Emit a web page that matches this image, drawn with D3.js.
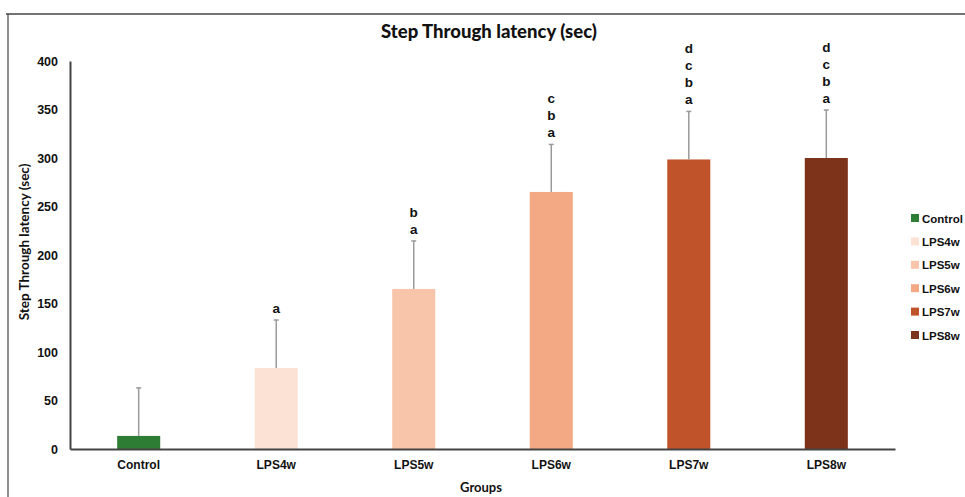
<!DOCTYPE html>
<html><head><meta charset="utf-8">
<script src="https://cdn.jsdelivr.net/npm/d3@7"></script>
<style>body{margin:0;background:#fff}svg{display:block}</style>
</head><body>
<svg id="c" width="965" height="497"></svg>
<script>
const categories = ["Control","LPS4w","LPS5w","LPS6w","LPS7w","LPS8w"];
const means = [13.5, 83.5, 165, 265, 298.5, 300];
const errors = [49.5, 49.5, 49.5, 49, 49.5, 49.5];
const letters = [[], ["a"], ["b","a"], ["c","b","a"], ["d","c","b","a"], ["d","c","b","a"]];
const colors = ["#2e7d34","#fce2d4","#f8c5aa","#f3a983","#c1532a","#7d3319"];
const yTicks = [0,50,100,150,200,250,300,350,400];

const svg = d3.select("#c");
// frame
svg.append("line").attr("x1",6).attr("x2",965).attr("y1",14).attr("y2",14).attr("stroke","#444").attr("stroke-width",1.5);
svg.append("line").attr("x1",8).attr("x2",8).attr("y1",14).attr("y2",497).attr("stroke","#444").attr("stroke-width",1.2);

const x = d3.scaleBand().domain(categories).range([70,895]).paddingInner(0.687).paddingOuter(0.343);
const y = d3.scaleLinear().domain([0,400]).range([449,61]);

// title
svg.append("text").attr("x",489).attr("y",38).attr("text-anchor","middle")
  .attr("font-family","Lato, 'Open Sans', sans-serif").attr("font-weight","900").attr("font-size",18.5).attr("fill","#111")
  .text("Step Through latency (sec)");

// y axis
const yAxis = svg.append("g").attr("transform","translate(70,0)")
  .call(d3.axisLeft(y).tickValues(yTicks).tickSize(0).tickPadding(12));
yAxis.select(".domain").attr("stroke","#444").attr("stroke-width",2);
yAxis.selectAll("text").attr("font-family","'Liberation Sans', Arial, sans-serif").attr("font-weight","bold").attr("font-size",12.5).attr("fill","#111");

// bars
svg.append("g").selectAll("rect").data(categories).join("rect")
  .attr("x",d=>x(d)).attr("width",x.bandwidth())
  .attr("y",(d,i)=>y(means[i])).attr("height",(d,i)=>y(0)-y(means[i]))
  .attr("fill",(d,i)=>colors[i]);

// error bars
const eb = svg.append("g");
categories.forEach((c,i)=>{
  const cx = x(c)+x.bandwidth()/2;
  eb.append("line").attr("x1",cx).attr("x2",cx).attr("y1",y(means[i])).attr("y2",y(means[i]+errors[i])).attr("stroke","#9a9a9a").attr("stroke-width",1.5);
  eb.append("line").attr("x1",cx-2.5).attr("x2",cx+2.5).attr("y1",y(means[i]+errors[i])).attr("y2",y(means[i]+errors[i])).attr("stroke","#9a9a9a").attr("stroke-width",1.5);
  const top = y(means[i]+errors[i]);
  const n = letters[i].length;
  letters[i].forEach((l,j)=>{
    svg.append("text").attr("x",cx).attr("y",top-7-(n-1-j)*17).attr("text-anchor","middle")
      .attr("font-family","'Liberation Sans', Arial, sans-serif").attr("font-weight","bold").attr("font-size",13.5).attr("fill","#111").text(l);
  });
});

// x axis
const xAxis = svg.append("g").attr("transform","translate(0,449)")
  .call(d3.axisBottom(x).tickSize(0).tickPadding(11));
xAxis.select(".domain").attr("stroke","#444").attr("stroke-width",2);
xAxis.selectAll("text").attr("font-family","'Liberation Sans', Arial, sans-serif").attr("font-weight","bold").attr("font-size",12).attr("fill","#111");

// axis titles
svg.append("text").attr("x",481).attr("y",492).attr("text-anchor","middle")
  .attr("font-family","Lato, 'Open Sans', sans-serif").attr("font-weight","bold").attr("font-size",13).attr("fill","#111").text("Groups");
svg.append("text").attr("transform","translate(29,242) rotate(-90)").attr("text-anchor","middle")
  .attr("font-family","Lato, 'Open Sans', sans-serif").attr("font-weight","bold").attr("font-size",13.5).attr("fill","#111").text("Step Through latency (sec)");

// legend
const lg = svg.append("g");
categories.forEach((c,i)=>{
  const yy = 218 + i*23.4;
  lg.append("rect").attr("x",911).attr("y",yy-4).attr("width",8).attr("height",8).attr("fill",colors[i]);
  lg.append("text").attr("x",922).attr("y",yy+4.5).attr("font-family","'Liberation Sans', Arial, sans-serif").attr("font-weight","bold").attr("font-size",11.5).attr("fill","#111").text(c);
});
</script>
</body></html>
